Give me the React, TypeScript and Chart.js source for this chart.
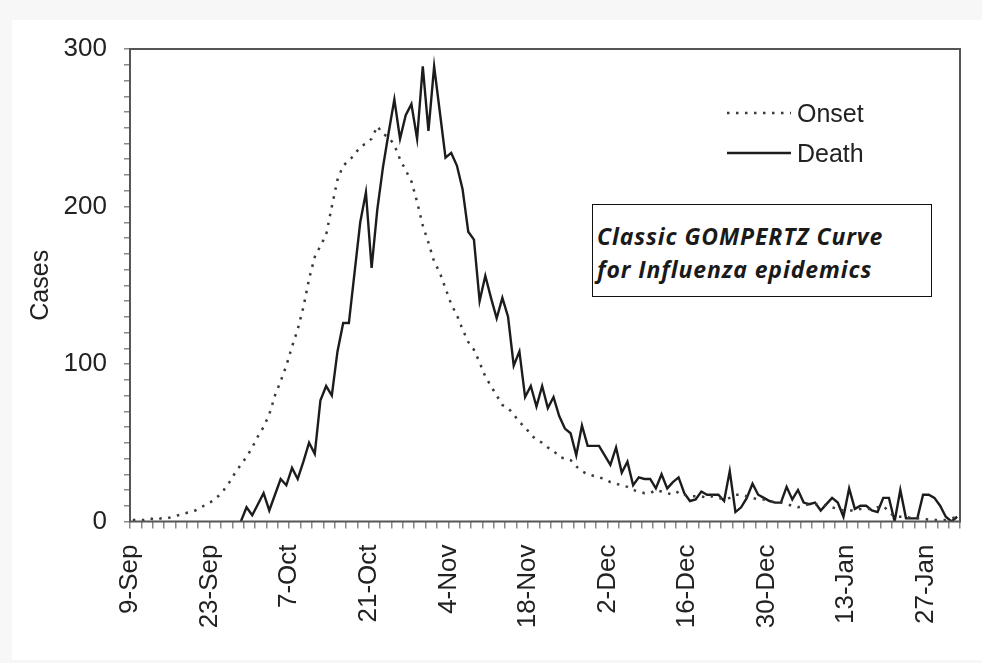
import React, { useEffect, useRef } from 'react';
import { Chart, registerables } from 'chart.js';

Chart.register(...registerables);

// x tick labels, one every 14 days starting 9-Sep
const tickLabels = ['9-Sep', '23-Sep', '7-Oct', '21-Oct', '4-Nov', '18-Nov', '2-Dec', '16-Dec', '30-Dec', '13-Jan', '27-Jan'];
const yLabeled = [0, 100, 200, 300];
const totalDays = 146;

// Daily onset cases (dotted)
const onset = [
  1, 1, 1, 2, 1, 2, 2, 3, 4, 5,
  6, 7, 9, 11, 13, 16, 20, 25, 31, 36,
  41, 47, 54, 60, 68, 80, 89, 99, 111, 122,
  136, 154, 168, 175, 182, 200, 217, 226, 229, 233,
  238, 240, 243, 251, 246, 244, 239, 230, 223, 216,
  203, 188, 177, 165, 158, 148, 138, 131, 122, 114,
  109, 101, 92, 86, 80, 74, 72, 68, 63, 60,
  55, 52, 50, 47, 45, 41, 40, 39, 35, 32,
  30, 29, 28, 27, 25, 24, 23, 22, 20, 19,
  18, 18, 20, 19, 18, 17, 19, 17, 16, 16,
  16, 15, 16, 15, 14, 15, 17, 17, 16, 15,
  14, 14, 13, 12, 12, 11, 10, 9, 10, 11,
  11, 11, 10, 9, 8, 7, 7, 7, 8, 8,
  8, 9, 10, 6, 3, 3, 3, 2, 2, 2,
  1, 1, 1, 1, 2, 3,
];

// Daily deaths (solid)
const death = [
  null, null, null, null, null, null, null, null, null, null,
  null, null, null, null, null, null, null, null, null, 0,
  9, 4, 11, 18, 7, 17, 27, 23, 34, 27,
  38, 50, 43, 77, 86, 80, 108, 126, 126, 158,
  190, 209, 161, 198, 225, 247, 268, 243, 258, 265,
  243, 289, 248, 289, 260, 231, 234, 226, 211, 184,
  179, 140, 156, 142, 129, 142, 130, 99, 108, 79,
  86, 73, 86, 72, 79, 67, 59, 56, 42, 61,
  48, 48, 48, 42, 36, 47, 31, 38, 23, 28,
  27, 27, 21, 30, 21, 25, 28, 18, 13, 14,
  19, 17, 17, 17, 13, 32, 6, 9, 15, 24,
  17, 15, 13, 12, 12, 22, 14, 20, 12, 11,
  12, 7, 11, 15, 12, 3, 21, 8, 10, 10,
  7, 6, 15, 15, 0, 20, 2, 2, 2, 17,
  17, 15, 10, 3, 0, 3,
];

const FONT = '"Liberation Sans", Arial, Helvetica, sans-serif';

const framePlugin = {
  id: 'frame',
  afterDatasetsDraw(chart: any) {
    const { ctx, chartArea: a } = chart;
    ctx.save();
    ctx.strokeStyle = '#555';
    ctx.lineWidth = 2;
    ctx.strokeRect(a.left, a.top, a.right - a.left, a.bottom - a.top);
    ctx.restore();
  },
};

export default function App() {
  const ref = useRef<HTMLCanvasElement>(null);

  useEffect(() => {
    const chart = new Chart(ref.current as HTMLCanvasElement, {
      type: 'line',
      data: {
        datasets: [
          {
            label: 'Onset',
            data: onset.map((v, i) => ({ x: i + 0.5, y: v })),
            borderColor: '#3a3a3a',
            borderWidth: 2.5,
            borderDash: [2.5, 6.5],
            pointRadius: 0,
            tension: 0,
            fill: false,
          },
          {
            label: 'Death',
            data: death.map((v, i) => ({ x: i + 0.5, y: v })),
            borderColor: '#1c1c1c',
            borderWidth: 2.4,
            pointRadius: 0,
            tension: 0,
            fill: false,
          },
        ],
      },
      options: {
        animation: false,
        responsive: false,
        devicePixelRatio: 1,
        layout: { padding: { left: 0, top: 49, right: 22, bottom: 0 } },
        plugins: { legend: { display: false }, tooltip: { enabled: false } },
        scales: {
          x: {
            type: 'linear',
            min: 0,
            max: totalDays,
            border: { display: false },
            grid: { drawOnChartArea: false, drawTicks: true, tickLength: 7, color: '#888', lineWidth: 1.5 },
            ticks: {
              stepSize: 2,
              autoSkip: false,
              maxRotation: 90,
              minRotation: 90,
              padding: 16,
              color: '#222',
              font: { family: FONT, size: 26 },
              callback: (v: any) => (v % 14 === 0 && tickLabels[v / 14] ? tickLabels[v / 14] : ''),
            },
            afterFit: (s: any) => {
              s.height = 141.5;
              s.paddingLeft = 0;
              s.paddingRight = 0;
            },
          },
          y: {
            min: 0,
            max: 300,
            border: { display: false },
            grid: { drawOnChartArea: false, drawTicks: true, tickLength: 6, color: '#888', lineWidth: 1.5 },
            ticks: {
              stepSize: 10,
              autoSkip: false,
              padding: 17,
              color: '#222',
              font: { family: FONT, size: 26 },
              callback: (v: any) => (yLabeled.includes(v) ? String(v) : ''),
            },
            title: {
              display: true,
              text: 'Cases',
              color: '#222',
              font: { family: FONT, size: 25, lineHeight: 1.2 },
              padding: { top: 26, bottom: 0 },
            },
            afterFit: (s: any) => {
              s.width = 130;
              s.paddingTop = 0;
              s.paddingBottom = 0;
            },
          },
        },
      },
      plugins: [framePlugin],
    } as any);
    return () => chart.destroy();
  }, []);

  const legendText: React.CSSProperties = {
    position: 'absolute',
    left: 797,
    fontFamily: FONT,
    fontSize: 25,
    lineHeight: '28px',
    color: '#222',
    whiteSpace: 'nowrap',
  };

  return (
    <div style={{ position: 'fixed', left: 0, top: 0, width: 982, height: 663, background: '#f7f7f7', overflow: 'hidden' }}>
      <div style={{ position: 'absolute', left: 12, top: 20, width: 970, height: 640, background: '#ffffff' }} />
      <canvas ref={ref} width={982} height={663} style={{ position: 'absolute', left: 0, top: 0, width: 982, height: 663 }} />
      <svg style={{ position: 'absolute', left: 726, top: 108 }} width={66} height={10}>
        <line x1={1} y1={5} x2={65} y2={5} stroke="#3a3a3a" strokeWidth={2.5} strokeDasharray="2.5 6.5" />
      </svg>
      <div style={{ ...legendText, top: 99 }}>Onset</div>
      <svg style={{ position: 'absolute', left: 726, top: 148 }} width={66} height={10}>
        <line x1={1} y1={5} x2={65} y2={5} stroke="#1c1c1c" strokeWidth={2.4} />
      </svg>
      <div style={{ ...legendText, top: 139 }}>Death</div>
      <div
        style={{
          position: 'absolute',
          left: 592,
          top: 204,
          width: 340,
          height: 93,
          boxSizing: 'border-box',
          border: '1.5px solid #111',
          background: '#fff',
          padding: '15px 0 0 4px',
          fontFamily: '"Open Sans", "Noto Sans", sans-serif',
          fontWeight: 700,
          fontStyle: 'italic',
          fontSize: 23,
          letterSpacing: '0.9px',
          lineHeight: '33px',
          color: '#1a1a1a',
          whiteSpace: 'nowrap',
        }}
      >
        <div>Classic GOMPERTZ Curve</div>
        <div>for Influenza epidemics</div>
      </div>
    </div>
  );
}
